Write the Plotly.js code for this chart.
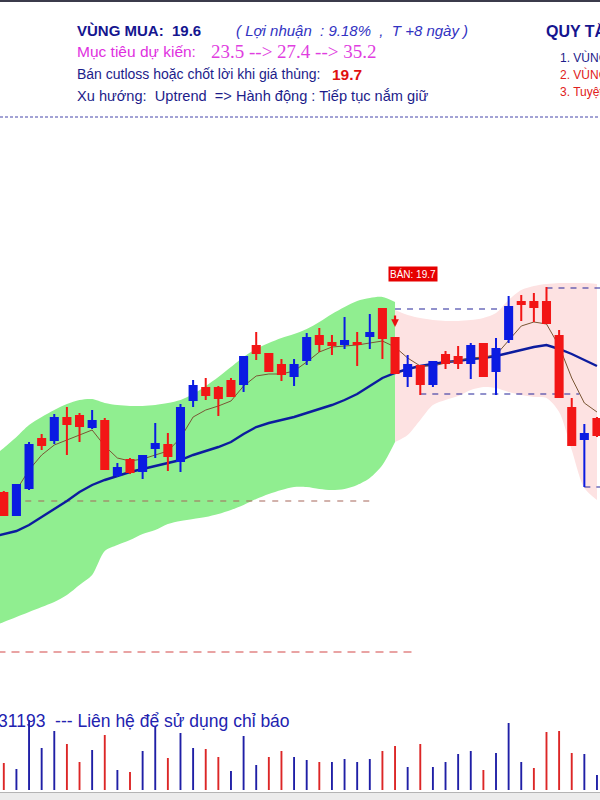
<!DOCTYPE html>
<html>
<head>
<meta charset="utf-8">
<script src="https://cdn.plot.ly/plotly-3.0.1.min.js"></script>
<style>
  html, body { margin: 0; padding: 0; background: #ffffff; }
  #chart { width: 600px; height: 800px; }
</style>
</head>
<body>
<div id="chart"></div>
<script>
// ---- Sessions shown on screen (0 = oldest visible session) ----
const days = [0, 1, 2, 3, 4, 5, 6, 7, 8, 9, 10, 11, 12, 13, 14, 15, 16, 17, 18, 19, 20, 21, 22, 23,
              24, 25, 26, 27, 28, 29, 30, 31, 32, 33, 34, 35, 36, 37, 38, 39, 40, 41, 42, 43, 44, 45, 46, 47];

// ---- Daily prices ----
const openPx  = [17.30, 16.86, 17.40, 18.38, 18.36, 18.80, 18.84, 18.62, 18.74, 17.66, 17.96, 17.74,
                 18.20, 18.26, 17.94, 19.16, 19.40, 19.40, 19.54, 19.48, 20.24, 20.08, 19.86, 19.64,
                 19.96, 20.44, 20.30, 20.28, 20.30, 20.44, 20.98, 20.40, 19.64, 19.84, 19.48, 20.06,
                 20.02, 19.90, 20.28, 19.74, 20.38, 21.12, 21.12, 21.12, 20.44, 19.00, 18.38, 18.78];
const highPx  = [17.34, 17.48, 18.32, 18.48, 18.88, 19.02, 18.90, 18.96, 18.80, 17.90, 18.00, 18.06,
                 18.70, 18.50, 19.08, 19.56, 19.60, 19.44, 19.60, 20.04, 20.52, 20.08, 19.98, 19.98,
                 20.50, 20.60, 20.46, 20.82, 20.52, 20.88, 20.98, 20.40, 20.06, 19.84, 19.92, 20.14,
                 20.24, 20.30, 20.28, 20.40, 21.24, 21.26, 21.30, 21.42, 20.56, 19.20, 18.68, 18.82];
const lowPx   = [16.84, 16.84, 17.36, 18.16, 18.28, 18.06, 18.32, 18.58, 17.76, 17.62, 17.68, 17.58,
                 18.00, 17.74, 17.72, 19.02, 19.16, 18.84, 19.22, 19.32, 19.96, 19.72, 19.54, 19.44,
                 19.86, 20.12, 20.06, 20.18, 19.84, 20.18, 19.98, 19.70, 19.42, 19.26, 19.42, 19.78,
                 19.78, 19.58, 19.64, 19.26, 20.30, 20.74, 20.72, 20.70, 19.22, 18.26, 17.42, 18.42];
const closePx = [16.86, 17.46, 18.26, 18.26, 18.80, 18.68, 18.64, 18.74, 17.78, 17.80, 17.72, 18.04,
                 18.28, 18.04, 19.00, 19.44, 19.26, 19.20, 19.24, 20.02, 20.10, 19.74, 19.68, 19.86,
                 20.40, 20.28, 20.26, 20.34, 20.28, 20.50, 20.40, 19.70, 19.86, 19.48, 19.92, 19.90,
                 19.90, 20.24, 19.64, 20.18, 21.02, 21.08, 21.02, 20.70, 19.22, 18.26, 18.48, 18.46];

// ---- Volume (shares) and whether the session closed up ----
const volume = [270000, 210000, 700000, 420000, 590000, 460000, 280000, 400000, 550000, 200000, 180000, 390000,
                630000, 320000, 570000, 420000, 410000, 330000, 190000, 540000, 250000, 330000, 390000, 330000,
                300000, 280000, 280000, 310000, 280000, 310000, 390000, 440000, 230000, 460000, 230000, 280000,
                360000, 390000, 200000, 370000, 670000, 280000, 220000, 580000, 590000, 370000, 360000, 150000];
const volumeUp = [false, true, true, true, true, false, false, true, false, true, false, true,
                  true, false, true, true, false, false, true, true, true, false, false, true,
                  true, false, true, true, true, true, false, false, true, false, true, true,
                  true, true, false, true, true, true, false, false, false, false, true, true];

// ---- Moving averages (first entry is the session just left of the view) ----
const maDays = [-1].concat(days);
const maSlow = [16.42, 16.48, 16.54, 16.66, 16.82, 16.98, 17.14, 17.32, 17.46, 17.56, 17.64, 17.72, 17.78,
                17.84, 17.90, 17.96, 18.06, 18.14, 18.22, 18.32, 18.48, 18.62, 18.70, 18.76, 18.82,
                18.90, 18.98, 19.06, 19.16, 19.28, 19.44, 19.60, 19.70, 19.78, 19.84, 19.88, 19.92,
                19.94, 19.98, 20.00, 20.04, 20.10, 20.16, 20.22, 20.26, 20.18, 20.08, 19.96, 19.84];
const maFast = [null, null, 17.36, 17.76, 18.06, 18.26, 18.36, 18.46, 18.56, 18.24, 18.00, 17.94, 17.98,
                18.06, 18.14, 18.40, 18.82, 18.96, 19.04, 19.14, 19.44, 19.64, 19.68, 19.68, 19.74,
                19.92, 20.12, 20.22, 20.24, 20.26, 20.30, 20.34, 20.22, 20.00, 19.84, 19.84, 19.90,
                19.96, 20.00, 20.02, 20.06, 20.36, 20.64, 20.72, 20.68, 20.24, 19.60, 19.10, 18.92];

// ---- Trend envelope: uptrend part (green) then the part after the sell signal (pink) ----
const upDays = [-1].concat(days.slice(0, 32));
const upUpper = [18.00, 18.20, 18.42, 18.66, 18.82, 18.96, 19.08, 19.16, 19.18, 19.10, 19.06, 19.04, 19.04,
                 19.06, 19.10, 19.16, 19.28, 19.44, 19.62, 19.82, 20.02, 20.18, 20.30, 20.40, 20.48,
                 20.58, 20.72, 20.88, 21.02, 21.14, 21.20, 21.22, 21.12];
const upLower = [14.62, 14.72, 14.82, 14.92, 15.02, 15.12, 15.26, 15.46, 15.66, 16.14, 16.26, 16.36, 16.48,
                 16.56, 16.68, 16.74, 16.78, 16.82, 16.88, 16.96, 17.06, 17.18, 17.28, 17.36, 17.42,
                 17.42, 17.38, 17.36, 17.38, 17.46, 17.60, 17.86, 18.32];
const offDays = days.slice(31);
const offUpper = [20.96, 20.86, 20.80, 20.76, 20.74, 20.74, 20.76, 20.80, 20.90, 21.16, 21.36, 21.44,
                  21.48, 21.50, 21.50, 21.50, 21.48];
const offLower = [18.32, 18.46, 18.76, 19.06, 19.16, 19.24, 19.36, 19.42, 19.40, 19.32, 19.26, 19.22,
                  19.20, 18.92, 18.16, 17.40, 17.16];

// ---- Horizontal price levels: price, first session, last session ----
const levelPrice = [17.14, 14.12, 20.98, 19.28, 21.40, 17.42];
const levelFrom  = [1.7, -0.5, 31, 33, 43, 46];
const levelTo    = [29.4, 32.6, 39.5, 45.6, 47.6, 47.6];

// ---- Signal ----
const sellIndex = 31;
const sellPrice = 19.7;

// ---------------------------------------------------------------
const BLUE = '#0b1be2', RED = '#f21616';
const SANS = 'Liberation Sans, Arial, sans-serif';
const SERIF = 'Liberation Serif, Times New Roman, serif';
const levelColor = ['#a5665a', '#d44848', '#24249a', '#24249a', '#24249a', '#24249a'];
const levelDash  = ['6px,7px', '8px,6px', '6px,6px', '6px,6px', '6px,6px', '6px,6px'];

const traces = [];

// envelope fills
traces.push({ x: upDays, y: upLower, type: 'scatter', mode: 'lines', line: { width: 0, shape: 'spline', smoothing: 0.8 }, hoverinfo: 'skip', showlegend: false });
traces.push({ x: upDays, y: upUpper, type: 'scatter', mode: 'lines', fill: 'tonexty', fillcolor: '#90ee90', line: { width: 0, shape: 'spline', smoothing: 0.8 }, hoverinfo: 'skip', showlegend: false });
traces.push({ x: offDays, y: offLower, type: 'scatter', mode: 'lines', line: { width: 0, shape: 'spline', smoothing: 0.8 }, hoverinfo: 'skip', showlegend: false });
traces.push({ x: offDays, y: offUpper, type: 'scatter', mode: 'lines', fill: 'tonexty', fillcolor: '#fde2e2', line: { width: 0, shape: 'spline', smoothing: 0.8 }, hoverinfo: 'skip', showlegend: false });

// price levels
levelPrice.forEach((p, i) => {
  traces.push({ x: [levelFrom[i], levelTo[i]], y: [p, p], type: 'scatter', mode: 'lines',
    line: { color: levelColor[i], width: 1.2, dash: levelDash[i] }, hoverinfo: 'skip', showlegend: false });
});

// moving averages
traces.push({ x: maDays, y: maSlow, type: 'scatter', mode: 'lines', line: { color: '#0c1c9e', width: 2.4 }, hoverinfo: 'skip', showlegend: false });
traces.push({ x: maDays, y: maFast, type: 'scatter', mode: 'lines', line: { color: '#7a5634', width: 1 }, hoverinfo: 'skip', showlegend: false, connectgaps: false });

// candles (own overlay axis so they sit above the envelope)
traces.push({
  type: 'candlestick', x: days, open: openPx, high: highPx, low: lowPx, close: closePx,
  xaxis: 'x', yaxis: 'y3', whiskerwidth: 0, hoverinfo: 'skip', showlegend: false,
  increasing: { line: { color: BLUE, width: 2 }, fillcolor: BLUE },
  decreasing: { line: { color: RED, width: 2 }, fillcolor: RED }
});

// volume
traces.push({
  type: 'bar', x: days, y: volume, xaxis: 'x', yaxis: 'y2', width: 0.15,
  marker: { color: volumeUp.map(u => u ? '#1f1fa6' : '#dc2626'), line: { width: 0 } },
  hoverinfo: 'skip', showlegend: false
});

// ---------------------------------------------------------------
const px = x => x / 600;
const py = y => 1 - y / 800;
function label(text, x, y, font, extra) {
  return Object.assign({ xref: 'paper', yref: 'paper', x: px(x), y: py(y), xanchor: 'left', yanchor: 'middle',
    showarrow: false, text: text, font: Object.assign({ family: SANS }, font) }, extra || {});
}

const annotations = [
  label('<b>VÙNG MUA:  19.6</b>', 75, 31, { size: 15, color: '#15158f' }),
  label('<i>( Lợi nhuận  : 9.18%  ,  T +8 ngày )</i>', 234, 31, { size: 15, color: '#3232c2' }),
  label('Mục tiêu dự kiến:', 75, 52, { size: 15.5, color: '#e030e0' }),
  label('23.5 --> 27.4 --> 35.2', 209, 52, { family: SERIF, size: 19, color: '#e03ee0' }),
  label('Bán cutloss hoặc chốt lời khi giá thủng:', 75, 74, { size: 14, color: '#1c1c8a' }),
  label('<b>' + sellPrice.toFixed(1) + '</b>', 330, 74, { size: 15.5, color: '#e01010' }),
  label('Xu hướng:  Uptrend  => Hành động : Tiếp tục nắm giữ', 75, 96, { size: 14.6, color: '#1c1c8a' }),
  label('<b>QUY TẮC GIAO DỊCH</b>', 544, 31, { size: 16, color: '#15158f' }),
  label('1. VÙNG MUA: giải ngân', 558, 57, { size: 12, color: '#1c1c8a' }),
  label('2. VÙNG BÁN: chốt lời', 558, 74, { size: 12, color: '#e02020' }),
  label('3. Tuyệt đối tuân thủ', 558, 92, { size: 12, color: '#e02020' }),
  label('31193  --- Liên hệ để sử dụng chỉ báo', -4, 721, { size: 17.5, color: '#2222b0' }),
  label('Dữ', 1, 796, { size: 8, color: '#333' }, { yanchor: 'top' }),
  label('Sheet 7', 24, 796, { size: 8, color: '#333' }, { yanchor: 'top' }),
  label('Sheet 8', 68, 796, { size: 8, color: '#333' }, { yanchor: 'top' }),
  // sell tag and arrow
  label('BÁN: ' + sellPrice.toFixed(1), 413, 274, { size: 10, color: '#ffffff' },
        { xanchor: 'center', bgcolor: '#e60000', borderpad: 1 }),
  { xref: 'x', yref: 'y', x: sellIndex, y: highPx[sellIndex] + 0.22, ax: 0, ay: -13, text: '',
    showarrow: true, arrowhead: 2, arrowsize: 0.7, arrowwidth: 2.2, arrowcolor: '#e81010', standoff: 0 }
];

const shapes = [
  { type: 'rect', xref: 'paper', yref: 'paper', x0: 0, x1: 1, y0: py(2), y1: 1, fillcolor: '#3b3b4b', line: { width: 0 } },
  { type: 'line', xref: 'paper', yref: 'paper', x0: 0, x1: 1, y0: py(117), y1: py(117), line: { color: '#4646aa', width: 1, dash: '3px,2px' } },
  { type: 'rect', xref: 'paper', yref: 'paper', x0: 0, x1: 1, y0: 0, y1: py(792.5), fillcolor: '#ececec', line: { width: 0 } },
  { type: 'line', xref: 'paper', yref: 'paper', x0: 0, x1: 1, y0: py(792.5), y1: py(792.5), line: { color: '#b4b4b4', width: 1 } }
];

const priceRange = [11.16, 27.16];
const layout = {
  width: 600, height: 800,
  margin: { l: 0, r: 0, t: 0, b: 0, pad: 0 },
  paper_bgcolor: '#ffffff', plot_bgcolor: 'rgba(0,0,0,0)',
  showlegend: false, hovermode: false, boxgap: 0.44, boxgroupgap: 0,
  xaxis: { range: [-0.301, 47.24], visible: false, fixedrange: true, rangeslider: { visible: false } },
  yaxis: { range: priceRange, visible: false, fixedrange: true },
  yaxis2: { range: [-100000, 7900000], overlaying: 'y', visible: false, fixedrange: true },
  yaxis3: { range: priceRange, overlaying: 'y', visible: false, fixedrange: true },
  annotations: annotations,
  shapes: shapes
};

Plotly.newPlot('chart', traces, layout, { displayModeBar: false, staticPlot: true });
</script>
</body>
</html>
